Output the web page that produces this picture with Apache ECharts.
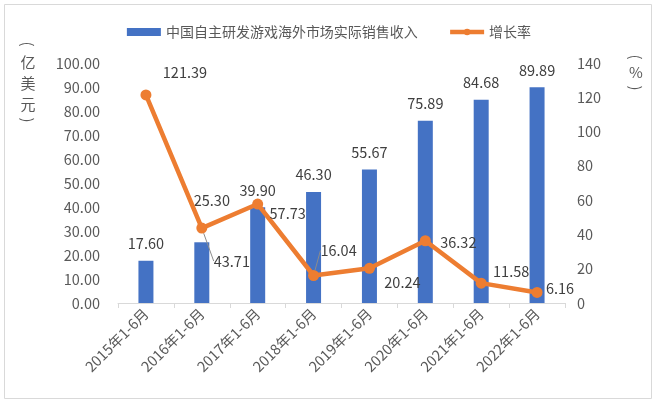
<!DOCTYPE html>
<html><head><meta charset="utf-8">
<script src="https://cdn.jsdelivr.net/npm/echarts@6/dist/echarts.min.js"></script>
<style>html,body{margin:0;padding:0;background:#fff}#c{width:658px;height:404px}</style>
</head><body><div id="c"></div>
<script>
const categories = ['2015年1-6月','2016年1-6月','2017年1-6月','2018年1-6月','2019年1-6月','2020年1-6月','2021年1-6月','2022年1-6月'];
const revenue = [17.60, 25.30, 39.90, 46.30, 55.67, 75.89, 84.68, 89.89];
const growth = [121.39, 43.71, 57.73, 16.04, 20.24, 36.32, 11.58, 6.16];
const leftTicks = [0, 100, 10];
const rightTicks = [0, 140, 20];

const labelOffsets = [[39,-22],[30,33],[30,9],[25,-25],[33,14],[33,2],[30,-12],[23,-4]];
const barLabelOffsets = [[0,0],[10,-25],[0,0],[0,0],[0,0],[0,0],[0,0],[0,0]];
const leader = [false,true,false,true,false,false,false,false];
const FONT = '"Noto Sans CJK SC", "Noto Sans", sans-serif';
const FS = 14.5;
function t(txt, x, y, rot){
  return {type:'text', x:x, y:y, rotation:rot||0,
    style:{text:txt, font:'15px '+FONT, fill:'#595959', align:'center', verticalAlign:'middle'}};
}
const chart = echarts.init(document.getElementById('c'), null, {renderer:'canvas'});
chart.setOption({
  animation:false,
  textStyle:{fontFamily:FONT},
  graphic:[
    {type:'rect', shape:{x:4.5,y:4.5,width:647,height:394}, style:{fill:'none', stroke:'#d9d9d9', lineWidth:1}},
    t('(', 28, 44, -Math.PI/2), t('亿', 28, 62), t('美', 28, 83), t('元', 28, 104), t(')', 28, 120, -Math.PI/2),
    t('(', 636, 57, -Math.PI/2), t('%', 636, 72), t(')', 636, 88, -Math.PI/2)
  ],
  legend:{
    top:20, left:'center', itemWidth:34, itemHeight:8, itemGap:30,
    textStyle:{fontSize:14, color:'#595959', fontFamily:FONT},
    data:[{name:'中国自主研发游戏海外市场实际销售收入', icon:'rect'},
          {name:'增长率', lineStyle:{width:4.5, color:'#ED7D31'}}]
  },
  grid:{left:118, right:93, top:63, bottom:101},
  xAxis:{
    type:'category', data:categories,
    axisLine:{lineStyle:{color:'#d9d9d9', width:1}},
    axisTick:{show:true, length:5, lineStyle:{color:'#d9d9d9'}},
    axisLabel:{rotate:45, fontSize:FS, color:'#595959', margin:8, fontFamily:FONT}
  },
  yAxis:[
    {type:'value', min:leftTicks[0], max:leftTicks[1], interval:leftTicks[2], splitLine:{show:false},
     axisLine:{show:false}, axisTick:{show:false},
     axisLabel:{fontSize:FS, color:'#595959', margin:18, formatter:v=>v.toFixed(2), fontFamily:FONT}},
    {type:'value', min:rightTicks[0], max:rightTicks[1], interval:rightTicks[2], splitLine:{show:false},
     axisLine:{show:false}, axisTick:{show:false},
     axisLabel:{fontSize:FS, color:'#595959', margin:12, fontFamily:FONT}}
  ],
  series:[
    {name:'中国自主研发游戏海外市场实际销售收入', type:'bar', barWidth:15,
     data:revenue.map((v,i)=>({value:v, label:{offset:barLabelOffsets[i]}})),
     itemStyle:{color:'#4472C4'},
     label:{show:true, position:'top', distance:10, fontSize:FS, color:'#404040', formatter:p=>p.value.toFixed(2), fontFamily:FONT}},
    {name:'增长率', type:'line', yAxisIndex:1,
     data:growth.map((v,i)=>({value:v, labelLine:{show:leader[i]}})),
     lineStyle:{color:'#ED7D31', width:4.5}, itemStyle:{color:'#ED7D31'},
     symbol:'circle', symbolSize:11,
     label:{show:true, position:'inside', fontSize:FS, color:'#404040', formatter:p=>p.value.toFixed(2), fontFamily:FONT},
     labelLine:{show:true, lineStyle:{color:'#8c8c8c', width:1}},
     labelLayout:function(p){
       const o = labelOffsets[p.dataIndex];
       return {dx:o[0], dy:o[1], hideOverlap:false};
     }
    }
  ]
});
</script></body></html>
